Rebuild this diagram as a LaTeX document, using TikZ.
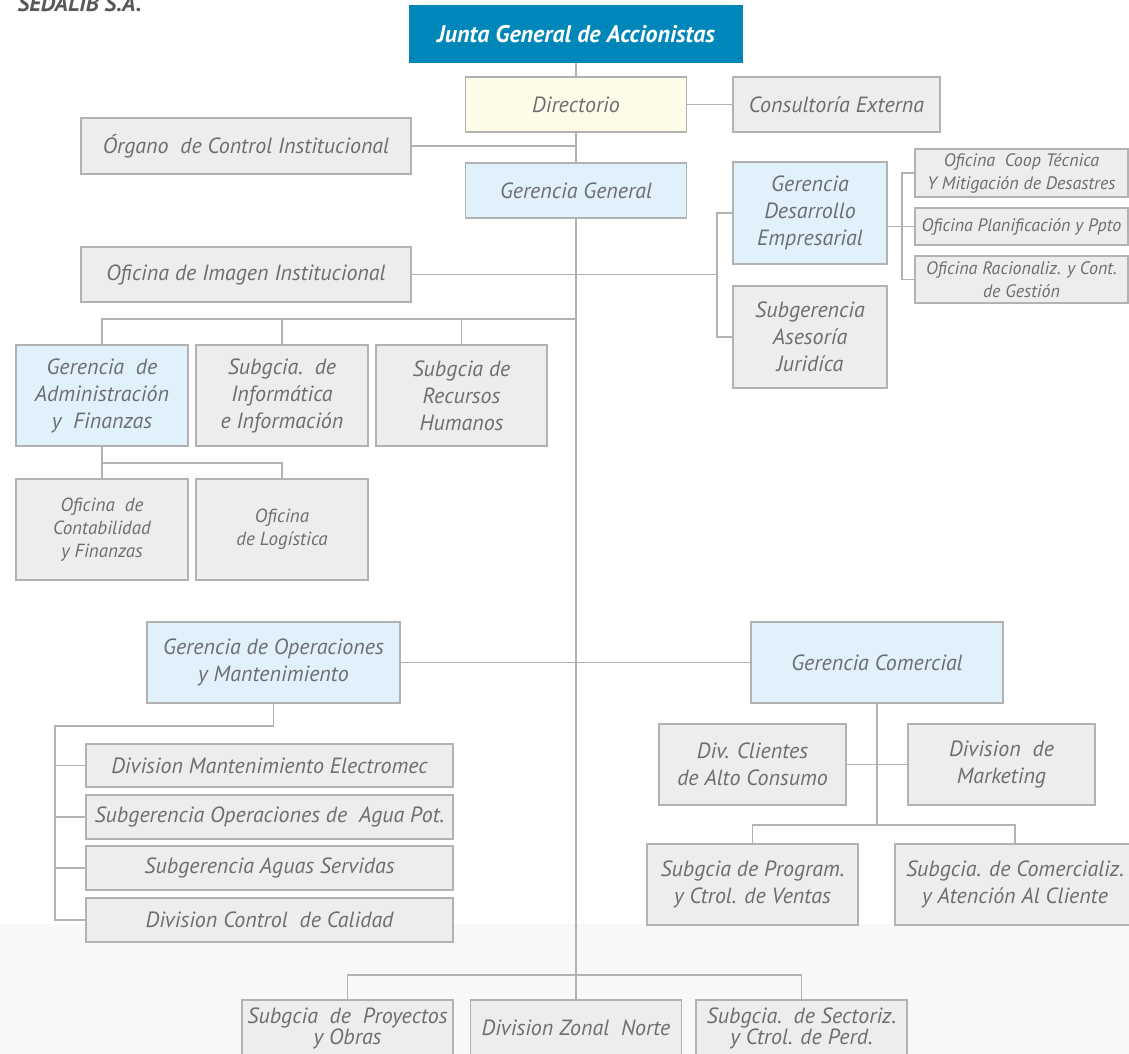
\documentclass[tikz,border=0pt]{standalone}
\usepackage{fontspec}
\setmainfont{PT Sans}
\usepackage{xcolor}
\usepackage{tikz}
\usetikzlibrary{shapes,arrows,positioning}

\definecolor{cajagris}{HTML}{EDEDED}
\definecolor{lineagris}{HTML}{B2B2B2}
\definecolor{textogris}{HTML}{6D6E71}
\definecolor{titulogris}{HTML}{58595B}
\definecolor{gerazul}{HTML}{E0F1FB}
\definecolor{diramarillo}{HTML}{FFFBE9}
\definecolor{juntaazul}{HTML}{0087BA}
\definecolor{fondogris}{HTML}{F8F8F8}

\begin{document}
\begin{tikzpicture}[
x=1pt, y=-1pt,
 every node/.style = {shape=rectangle, draw=lineagris, line width=1.3pt,
      fill=cajagris, text=textogris, inner sep=0pt, align=center,
      font=\itshape\fontsize{22}{27}\selectfont},
 conector/.style = {draw=lineagris, line width=1.3pt},
 chica/.style = {font=\itshape\fontsize{19}{23}\selectfont},
 mini/.style = {font=\itshape\fontsize{18}{23}\selectfont},
 apretada/.style = {font=\itshape\fontsize{22}{21}\selectfont}
]
\useasboundingbox (0,0) rectangle (1129,1054);
\fill[fondogris] (0,924) rectangle (1129,1054);

  % Nodos
  \node[draw=none, fill=none, anchor=base west, text=titulogris,
    font=\bfseries\itshape\fontsize{23}{26}\selectfont] (empresa) at (17,12) {SEDALIB S.A.};
  \node[draw=juntaazul, fill=juntaazul, text=white, font=\bfseries\itshape\fontsize{24}{28}\selectfont,
    minimum width=332pt, minimum height=56pt] (junta) at (576,34) {Junta General de Accionistas};
  \node[fill=diramarillo, minimum width=221pt, minimum height=55pt] (dir) at (576,104.5) {Directorio};
  \node[minimum width=207pt, minimum height=55pt] (cons) at (836.5,104.5) {Consultoría Externa};
  \node[minimum width=330pt, minimum height=56pt] (org) at (246,146) {Órgano\ \ de Control Institucional};
  \node[fill=gerazul, minimum width=221pt, minimum height=55pt] (gg) at (576,190.5) {Gerencia General};

  \node[fill=gerazul, minimum width=154pt, minimum height=102pt] (gde) at (810,213) {Gerencia\\Desarrollo\\Empresarial};
  \node[minimum width=154pt, minimum height=102pt] (saj) at (810,337) {Subgerencia\\Asesoría\\Juridíca};
  \node[mini, minimum width=213pt, minimum height=48pt] (ofcoop) at (1021.5,173) {Oficina\ \ Coop Técnica\\Y Mitigación de Desastres};
  \node[mini, minimum width=213pt, minimum height=37pt] (ofpla) at (1021.5,226.5) {Oficina Planificación y Ppto};
  \node[mini, minimum width=213pt, minimum height=47pt] (ofrac) at (1021.5,279.5) {Oficina Racionaliz. y Cont.\\de Gestión};

  \node[minimum width=330pt, minimum height=55pt] (img) at (246,274.5) {Oficina de Imagen Institucional};
  \node[fill=gerazul, minimum width=172pt, minimum height=101pt] (gaf) at (102,395.5) {Gerencia\ \ de\\Administración\\y\ \ Finanzas};
  \node[minimum width=172pt, minimum height=101pt] (inf) at (282,395.5) {Subgcia.\ \ de\\Informática\\e Información};
  \node[minimum width=171pt, minimum height=101pt] (rrhh) at (461.5,395.5) {Subgcia de\\Recursos\\Humanos};
  \node[chica, minimum width=172pt, minimum height=101pt] (cont) at (102,529.5) {Oficina\ \ de\\Contabilidad\\y Finanzas};
  \node[chica, minimum width=172pt, minimum height=101pt] (log) at (282,529.5) {Oficina\\de Logística};

  \node[fill=gerazul, minimum width=253pt, minimum height=81pt] (gom) at (273.5,662.5) {Gerencia de Operaciones\\y Mantenimiento};
  \node[minimum width=367pt, minimum height=43pt] (elec) at (269.5,765.5) {Division Mantenimiento Electromec};
  \node[minimum width=367pt, minimum height=44pt] (agua) at (269.5,817) {Subgerencia Operaciones de\ \ Agua Pot.};
  \node[minimum width=367pt, minimum height=44pt] (serv) at (269.5,868) {Subgerencia Aguas Servidas};
  \node[minimum width=367pt, minimum height=44pt] (ctrl) at (269.5,920) {Division Control\ \ de Calidad};

  \node[fill=gerazul, minimum width=252pt, minimum height=81pt] (gc) at (877,662.5) {Gerencia Comercial};
  \node[minimum width=187pt, minimum height=81pt] (cli) at (752.5,764.5) {Div. Clientes\\de Alto Consumo};
  \node[minimum width=187pt, minimum height=81pt] (mkt) at (1001.5,764.5) {Division\ \ de\\Marketing};
  \node[minimum width=211pt, minimum height=81pt] (prog) at (752.5,884.5) {Subgcia de Program.\\y Ctrol. de Ventas};
  \node[minimum width=240pt, minimum height=81pt] (comz) at (1015,884.5) {Subgcia. de Comercializ.\\y Atención Al Cliente};

  \node[apretada, minimum width=211pt, minimum height=56pt] (proy) at (347.5,1028) {Subgcia\ \ de\ \ Proyectos\\y Obras};
  \node[minimum width=211pt, minimum height=56pt] (dzn) at (576,1028) {Division Zonal\ \ Norte};
  \node[apretada, minimum width=211pt, minimum height=56pt] (sect) at (801.5,1028) {Subgcia.\ \ de Sectoriz.\\y Ctrol. de Perd.};

  % Puntos de union
  \coordinate (busgde) at (717,274.5);
  \coordinate (busof) at (902,173);
  \coordinate (busfila) at (576,319);
  \coordinate (busgaf) at (102,463);
  \coordinate (busgom) at (55,726);
  \coordinate (busgc) at (877,825);
  \coordinate (busbajo) at (576,975);

  % Conexiones
  \draw[conector] (junta) -- (dir);
  \draw[conector] (dir) -- (cons);
  \draw[conector] (dir) -- (gg);
  \draw[conector] (org.east) -- (org.east -| dir.south);
  \draw[conector] (gg) -- (dzn);
  \draw[conector] (img.east) -- (busgde);
  \draw[conector] (gde.west) -| (busgde) |- (saj.west);
  \draw[conector] (gde.east |- ofpla.west) -- (ofpla.west);
  \draw[conector] (ofcoop.west) -- (busof) |- (ofrac.west);
  \draw[conector] (gaf.north) |- (busfila);
  \draw[conector] (inf.north) -- (inf.north |- busfila);
  \draw[conector] (rrhh.north) -- (rrhh.north |- busfila);
  \draw[conector] (gaf) -- (cont);
  \draw[conector] (busgaf) -| (log.north);
  \draw[conector] (gom.east) -- (gc.west);
  \draw[conector] (gom.south) |- (busgom) |- (ctrl.west);
  \foreach \caja in {elec,agua,serv}
    \draw[conector] (\caja.west) -- (\caja.west -| busgom);
  \draw[conector] (gc.south) -- (busgc);
  \draw[conector] (cli) -- (mkt);
  \draw[conector] (prog.north) |- (busgc) -| (comz.north);
  \draw[conector] (proy.north) |- (busbajo) -| (sect.north);

\end{tikzpicture}
\end{document}
